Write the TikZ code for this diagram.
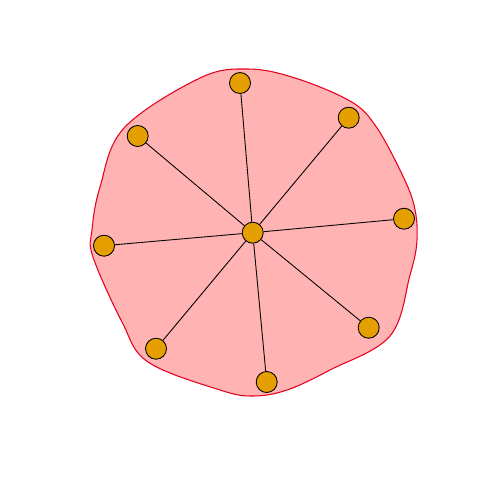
\documentclass[tikz,border=0pt]{standalone}
\begin{document}
\begin{tikzpicture}[x=0.02cm,y=-0.02cm,
  vtx/.style={circle,draw=black,line width=0.5pt,fill={rgb,255:red,230;green,159;blue,0},minimum size=21*0.02cm,inner sep=0pt},
  edge/.style={draw=black,line width=0.5pt},
  blob/.style={draw={rgb,255:red,230;green,0;blue,30},line width=0.6pt,fill={rgb,255:red,255;green,179;blue,179}}]
\useasboundingbox (0,0) rectangle (480,480);
\path[blob] plot[smooth cycle,tension=0.6] coordinates{
 (248,69) (295,78) (350,101) (375,125) (400,170) (414,205) (417,240) (410,275)
 (390,336) (330,370) (287,390) (253,396) (220,390) (148,362)
 (122,322) (93,257) (92,230) (100,187) (124,128) (200,78)};
\node[vtx] (c) at (252.7,232.7) {};
\node[vtx] (a1) at (240,83) {};
\node[vtx] (a2) at (348.7,117.7) {};
\node[vtx] (a3) at (404,218.7) {};
\node[vtx] (a4) at (368.7,327.7) {};
\node[vtx] (a5) at (266.7,382) {};
\node[vtx] (a6) at (156,348.7) {};
\node[vtx] (a7) at (104,245.7) {};
\node[vtx] (a8) at (137.7,136) {};
\foreach \n in {a1,a2,a3,a4,a5,a6,a7,a8} \path[edge] (c) -- (\n);
\end{tikzpicture}
\end{document}
